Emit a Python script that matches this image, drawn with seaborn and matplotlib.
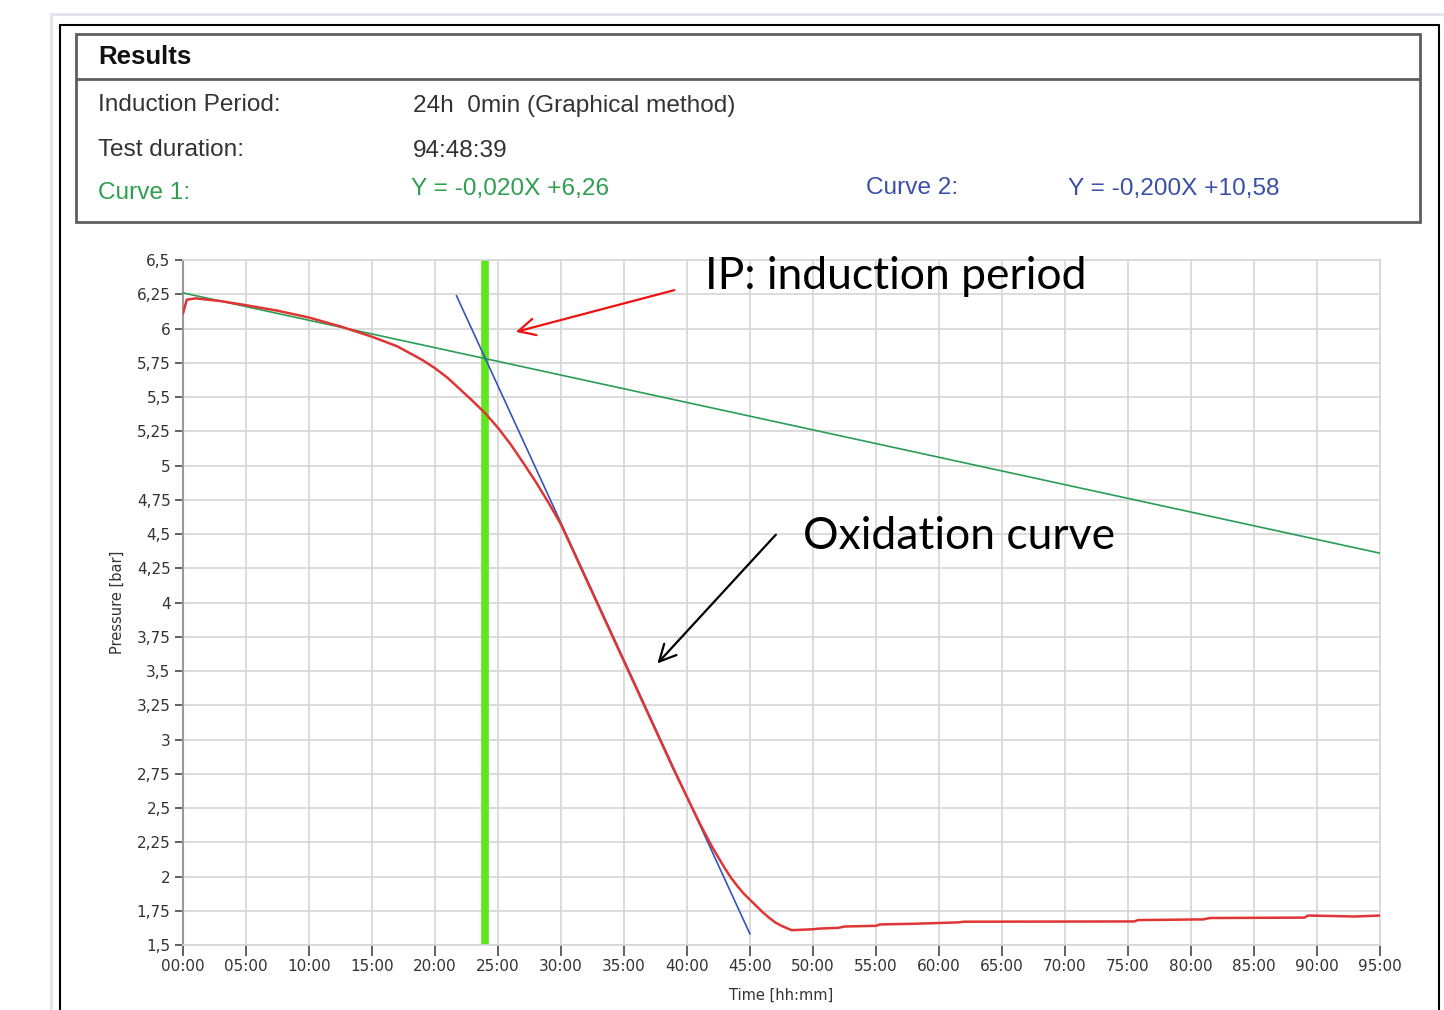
import matplotlib
matplotlib.use("Agg")
import matplotlib.pyplot as plt
from matplotlib import font_manager
from matplotlib.lines import Line2D
from matplotlib.patches import Rectangle
import pandas as pd
import seaborn as sns

# oxidation curve (time in hours, pressure in bar)
ox_time = [0, 0.3, 1, 3, 5, 7.5, 10, 12.5, 15, 17, 18, 19, 20, 21, 22, 23, 24, 25, 26,
           27, 28, 29, 30, 31, 32, 33, 34, 35, 36, 37, 38, 39, 40, 41, 42, 43, 43.5,
           44, 44.5, 45, 45.5, 46, 46.5, 47, 47.5, 48, 48.3, 50, 50.5, 52, 52.5, 55,
           55.3, 58, 61.5, 62, 75.5, 75.8, 81, 81.5, 89, 89.3, 91, 93, 95]
ox_pressure = [6.11, 6.21, 6.22, 6.20, 6.17, 6.13, 6.08, 6.015, 5.94, 5.87, 5.82, 5.77,
               5.71, 5.64, 5.555, 5.47, 5.38, 5.275, 5.155, 5.02, 4.88, 4.73, 4.57,
               4.37, 4.17, 3.97, 3.77, 3.57, 3.37, 3.17, 2.97, 2.77, 2.58, 2.39, 2.215,
               2.06, 1.99, 1.93, 1.875, 1.83, 1.785, 1.74, 1.70, 1.665, 1.64, 1.62,
               1.608, 1.615, 1.62, 1.625, 1.635, 1.64, 1.65, 1.655, 1.665, 1.67, 1.672,
               1.682, 1.687, 1.697, 1.70, 1.715, 1.712, 1.708, 1.715]

# tangent lines (curve 1 / curve 2) endpoints
fit1_time = [0, 95]
fit1_pressure = [6.26, 4.36]
fit2_time = [21.7, 45]
fit2_pressure = [6.24, 1.58]
ip_time = 24

x_ticks = list(range(0, 100, 5))
x_labels = ["00:00", "05:00", "10:00", "15:00", "20:00", "25:00", "30:00", "35:00",
            "40:00", "45:00", "50:00", "55:00", "60:00", "65:00", "70:00", "75:00",
            "80:00", "85:00", "90:00", "95:00"]
y_ticks = [1.5, 1.75, 2, 2.25, 2.5, 2.75, 3, 3.25, 3.5, 3.75, 4, 4.25, 4.5, 4.75,
           5, 5.25, 5.5, 5.75, 6, 6.25, 6.5]
y_labels = ["1,5", "1,75", "2", "2,25", "2,5", "2,75", "3", "3,25", "3,5", "3,75", "4",
            "4,25", "4,5", "4,75", "5", "5,25", "5,5", "5,75", "6", "6,25", "6,5"]

sns.set_style("white")
plt.rcParams['font.family'] = ['DejaVu Sans']

names = {f.name for f in font_manager.fontManager.ttflist}
box_font = 'Liberation Sans Narrow' if 'Liberation Sans Narrow' in names else 'Liberation Sans'
note_font = 'Lato' if 'Lato' in names else 'DejaVu Sans'

W, H = 1444, 1010
fig = plt.figure(figsize=(W / 100, H / 100), dpi=100)


def fx(px):
    return px / W


def fy(py):
    return 1 - py / H


# outer window frame
fig.add_artist(Line2D([fx(51), 1], [fy(14), fy(14)], color='#dfe5ef', lw=2))
fig.add_artist(Line2D([fx(51), fx(51)], [fy(14), 0], color='#dfe5ef', lw=2))
fig.add_artist(Line2D([fx(60), fx(1439)], [fy(25), fy(25)], color='black', lw=1.5))
fig.add_artist(Line2D([fx(60), fx(60)], [fy(25), 0], color='black', lw=1.5))
fig.add_artist(Line2D([fx(1439), fx(1439)], [fy(25), 0], color='black', lw=1.5))

# results box
fig.add_artist(Rectangle((fx(76), fy(222)), fx(1420) - fx(76), fy(34) - fy(222),
                         fill=False, edgecolor='#5e5e5e', lw=2))
fig.add_artist(Line2D([fx(76), fx(1420)], [fy(79), fy(79)], color='#5e5e5e', lw=2))

txt = dict(family=box_font, fontsize=17.6, va='center', color='#333333')
fig.text(fx(98), fy(57), "Results", family='Liberation Sans', fontsize=18.5,
         fontweight='bold', va='center', color='#111111')
fig.text(fx(98), fy(105), "Induction Period:", **txt)
fig.text(fx(413), fy(106), "24h  0min (Graphical method)", **txt)
fig.text(fx(98), fy(150), "Test duration:", **txt)
fig.text(fx(413), fy(151), "94:48:39", **txt)
txt['color'] = '#2e9e4f'
fig.text(fx(98), fy(193), "Curve 1:", **txt)
fig.text(fx(411), fy(189), "Y = -0,020X +6,26", **txt)
txt['color'] = '#3a50a8'
fig.text(fx(866), fy(188), "Curve 2:", **txt)
fig.text(fx(1068), fy(189), "Y = -0,200X +10,58", **txt)

# chart
ax = fig.add_axes([fx(183), fy(945), fx(1380) - fx(183), fy(260) - fy(945)])

ax.axvline(ip_time, color='#5fe61e', lw=5.5, zorder=2)
sns.lineplot(x=fit1_time, y=fit1_pressure, color='#2a9d55', lw=1.2, ax=ax, zorder=3)
sns.lineplot(x=fit2_time, y=fit2_pressure, color='#3355bb', lw=1.2, ax=ax, zorder=3)
ox = pd.DataFrame({'time': ox_time, 'pressure': ox_pressure})
sns.lineplot(data=ox, x='time', y='pressure', color='#e03535', lw=1.8, ax=ax,
             estimator=None, sort=False, zorder=4)

ax.set_xlim(0, 95)
ax.set_ylim(1.5, 6.5)
ax.set_xticks(x_ticks)
ax.set_xticklabels(x_labels)
ax.set_yticks(y_ticks)
ax.set_yticklabels(y_labels)
ax.grid(True, color='#d6d6d6', lw=1.2)
ax.set_axisbelow(True)
ax.tick_params(axis='both', labelsize=11, labelcolor='#333333', color='#555555',
               length=6, width=1.3, direction='out', pad=3, bottom=True, left=True)
ax.tick_params(axis='x', length=8, pad=2)
for side in ['top', 'right', 'bottom']:
    ax.spines[side].set_color('#d6d6d6')
    ax.spines[side].set_linewidth(1.2)
ax.spines['left'].set_color('#999999')
ax.spines['left'].set_linewidth(1.5)

ax.set_xlabel("Time [hh:mm]", fontsize=10.5, color='#333333')
ax.set_ylabel("Pressure [bar]", fontsize=10.5, color='#333333')
ax.xaxis.set_label_coords(0.5, -0.073)
ax.xaxis.label.set_va('center')
ax.yaxis.set_label_coords(-0.055, 0.5)
ax.yaxis.label.set_va('center')

# annotations
ax.annotate("", xy=(26.2, 5.97), xytext=(39.2, 6.285),
            arrowprops=dict(arrowstyle='->', color='#ee1111', lw=1.6, mutation_scale=30))
ax.text(41.4, 6.288, "IP: induction period", family=note_font, fontsize=32,
        va='baseline', ha='left', color='black')
ax.annotate("", xy=(37.5, 3.54), xytext=(47.2, 4.51),
            arrowprops=dict(arrowstyle='->', color='black', lw=1.6, mutation_scale=30))
ax.text(49.2, 4.39, "Oxidation curve", family=note_font, fontsize=32,
        va='baseline', ha='left', color='black')

fig.savefig("out.png", dpi=100)
